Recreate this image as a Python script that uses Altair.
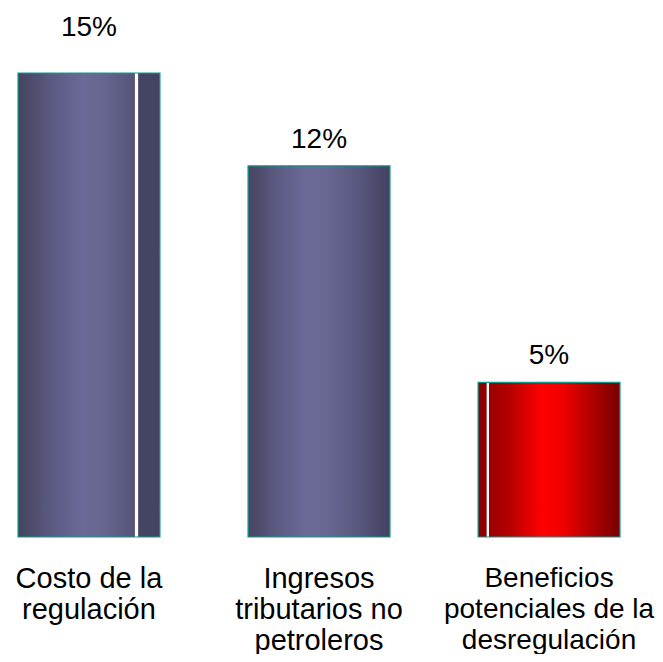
import altair as alt
import pandas as pd

categories = ["Costo de la|regulación", "Ingresos|tributarios no|petroleros", "Beneficios|potenciales de la|desregulación"]
values = [15, 12, 5]
labels = ["15%", "12%", "5%"]

df = pd.DataFrame({"cat": categories, "v": values, "lab": labels, "i": [0, 1, 2]})

FONT = "Liberation Sans"

grad1 = {"gradient": "linear", "x1": 0, "x2": 1, "y1": 0, "y2": 0, "stops": [
    {"offset": 0.0, "color": "#45445f"},
    {"offset": 0.25, "color": "#5c5b84"},
    {"offset": 0.45, "color": "#6b6a97"},
    {"offset": 0.6, "color": "#67668f"},
    {"offset": 0.82, "color": "#545379"},
    {"offset": 0.828, "color": "#ffffff"},
    {"offset": 0.842, "color": "#ffffff"},
    {"offset": 0.85, "color": "#464563"},
    {"offset": 1.0, "color": "#444362"},
]}
grad2 = {"gradient": "linear", "x1": 0, "x2": 1, "y1": 0, "y2": 0, "stops": [
    {"offset": 0.0, "color": "#454460"},
    {"offset": 0.2, "color": "#5b5a82"},
    {"offset": 0.4, "color": "#6b6a97"},
    {"offset": 0.55, "color": "#696893"},
    {"offset": 0.8, "color": "#56557b"},
    {"offset": 1.0, "color": "#424160"},
]}
grad3 = {"gradient": "linear", "x1": 0, "x2": 1, "y1": 0, "y2": 0, "stops": [
    {"offset": 0.0, "color": "#8e0000"},
    {"offset": 0.058, "color": "#8e0000"},
    {"offset": 0.062, "color": "#ffffff"},
    {"offset": 0.075, "color": "#ffffff"},
    {"offset": 0.08, "color": "#9c0000"},
    {"offset": 0.2, "color": "#b00000"},
    {"offset": 0.45, "color": "#ff0000"},
    {"offset": 0.6, "color": "#f00000"},
    {"offset": 0.85, "color": "#a00000"},
    {"offset": 1.0, "color": "#780000"},
]}

x = alt.X("cat:N", sort=categories, title=None,
          scale=alt.Scale(paddingInner=0.383, paddingOuter=0),
          axis=alt.Axis(labelAngle=0, domain=False, ticks=False,
                        labelExpr="split(datum.label, '|')",
                        labelFont=FONT,
                        labelFontSize={"condition": {"test": "indexof(datum.value, 'Benef') == 0", "value": 28}, "value": 29},
                        labelLineHeight=31,
                        labelColor="#000000", labelPadding=27, labelLimit=400))
y = alt.Y("v:Q", title=None, scale=alt.Scale(domain=[0, 15], nice=False, zero=True), axis=None)

base = alt.Chart(df)

bars = []
for idx, g in enumerate([grad1, grad2, grad3]):
    bars.append(base.transform_filter(alt.datum.i == idx)
                .mark_bar(fill=g, stroke="#129a8e", strokeWidth=1.2)
                .encode(x=x, y=y))

txt_top = base.transform_filter(alt.datum.i == 0).mark_text(
    font=FONT, fontSize=28, baseline="alphabetic", dy=-37, color="#000000"
).encode(x=x, y=y, text="lab:N")
txt_rest = base.transform_filter(alt.datum.i > 0).mark_text(
    font=FONT, fontSize=28, baseline="alphabetic", dy=-18, color="#000000"
).encode(x=x, y=y, text="lab:N")

chart = alt.layer(*bars, txt_top, txt_rest).properties(
    width=602, height=464,
    autosize=alt.AutoSizeParams(type="none"),
    padding={"left": 10, "top": 65, "right": 35, "bottom": 117},
).configure(background="#ffffff").configure_view(strokeWidth=0, stroke="transparent")

chart.save("out.html", embed_options={"renderer": "svg", "actions": False})
